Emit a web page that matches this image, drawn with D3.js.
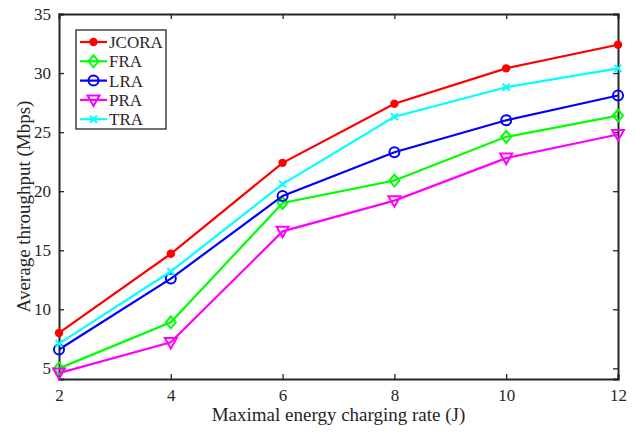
<!DOCTYPE html>
<html>
<head>
<meta charset="utf-8">
<script src="https://cdn.jsdelivr.net/npm/d3@7"></script>
<style>
  body { margin: 0; background: #fff; }
  text { font-family: "Liberation Serif", "Times New Roman", serif; fill: #262626; }
</style>
</head>
<body>
<svg id="chart"></svg>
<script>
const rates = [2, 4, 6, 8, 10, 12];
const jcora = [8.0, 14.7, 22.4, 27.4, 30.4, 32.4];
const fra = [5.0, 8.9, 19.0, 20.9, 24.6, 26.4];
const lra = [6.6, 12.6, 19.6, 23.3, 26.0, 28.1];
const pra = [4.6, 7.2, 16.6, 19.2, 22.8, 24.8];
const tra = [7.1, 13.2, 20.6, 26.3, 28.8, 30.4];
const xTicks = [2, 4, 6, 8, 10, 12];
const yTicks = [5, 10, 15, 20, 25, 30, 35];

const series = [
  { name: "JCORA", values: jcora, color: "#ff0000", marker: "dot" },
  { name: "FRA", values: fra, color: "#00ff00", marker: "diamond" },
  { name: "LRA", values: lra, color: "#0000ff", marker: "circle" },
  { name: "PRA", values: pra, color: "#ff00ff", marker: "triangle" },
  { name: "TRA", values: tra, color: "#00ffff", marker: "cross" }
];

const width = 636, height = 432;
const margin = { top: 14, right: 18, bottom: 53, left: 59 };

const svg = d3.select("#chart").attr("width", width).attr("height", height);

const x = d3.scaleLinear().domain([2, 12]).range([margin.left, width - margin.right]);
const y = d3.scaleLinear().domain([4.1, 35]).range([height - margin.bottom, margin.top]);

const axisColor = "#262626";

// ticks pointing inward on all four sides
svg.append("g")
  .attr("transform", `translate(0,${height - margin.bottom})`)
  .call(d3.axisBottom(x).tickValues(xTicks).tickSize(-5).tickPadding(10))
  .call(g => g.selectAll("text").style("font-size", "17px"));
svg.append("g")
  .attr("transform", `translate(0,${margin.top})`)
  .call(d3.axisTop(x).tickValues(xTicks).tickSize(-5).tickFormat(""));
svg.append("g")
  .attr("transform", `translate(${margin.left},0)`)
  .call(d3.axisLeft(y).tickValues(yTicks).tickSize(-5).tickPadding(8))
  .call(g => g.selectAll("text").style("font-size", "17px"));
svg.append("g")
  .attr("transform", `translate(${width - margin.right},0)`)
  .call(d3.axisRight(y).tickValues(yTicks).tickSize(-5).tickFormat(""));

svg.selectAll(".domain").attr("stroke", axisColor).attr("stroke-width", 2);
svg.selectAll(".tick line").attr("stroke", axisColor).attr("stroke-width", 1.3);
svg.selectAll(".tick text").attr("fill", axisColor).style("font-family", "Liberation Serif, serif");

const line = d3.line().x((d, i) => x(rates[i])).y(d => y(d));

function drawMarker(g, type, color, cx, cy) {
  if (type === "dot") {
    g.append("circle").attr("cx", cx).attr("cy", cy).attr("r", 4.2).attr("fill", color);
  } else if (type === "circle") {
    g.append("circle").attr("cx", cx).attr("cy", cy).attr("r", 5)
      .attr("fill", "none").attr("stroke", color).attr("stroke-width", 2);
  } else if (type === "diamond") {
    g.append("path").attr("d", `M${cx},${cy - 6}L${cx + 5},${cy}L${cx},${cy + 6}L${cx - 5},${cy}Z`)
      .attr("fill", "none").attr("stroke", color).attr("stroke-width", 2);
  } else if (type === "triangle") {
    g.append("path").attr("d", `M${cx - 6},${cy - 4.5}L${cx + 6},${cy - 4.5}L${cx},${cy + 6}Z`)
      .attr("fill", "none").attr("stroke", color).attr("stroke-width", 2);
  } else if (type === "cross") {
    g.append("path").attr("d", `M${cx - 3.5},${cy - 3.5}L${cx + 3.5},${cy + 3.5}M${cx - 3.5},${cy + 3.5}L${cx + 3.5},${cy - 3.5}`)
      .attr("fill", "none").attr("stroke", color).attr("stroke-width", 2);
  }
}

series.forEach(s => {
  svg.append("path")
    .datum(s.values)
    .attr("d", line)
    .attr("fill", "none")
    .attr("stroke", s.color)
    .attr("stroke-width", 2.2);
  const g = svg.append("g");
  s.values.forEach((v, i) => drawMarker(g, s.marker, s.color, x(rates[i]), y(v)));
});

// legend
const legend = svg.append("g").attr("transform", "translate(76,30)");
legend.append("rect")
  .attr("width", 90).attr("height", 99)
  .attr("fill", "#fff").attr("stroke", axisColor).attr("stroke-width", 1.3);
series.forEach((s, i) => {
  const ly = 12 + i * 19.3;
  legend.append("line").attr("x1", 4).attr("x2", 31).attr("y1", ly).attr("y2", ly)
    .attr("stroke", s.color).attr("stroke-width", 2.2);
  drawMarker(legend, s.marker, s.color, 17.5, ly);
  legend.append("text").attr("x", 33).attr("y", ly).attr("dy", "0.35em")
    .style("font-size", "17px").text(s.name);
});

svg.append("text")
  .attr("x", (margin.left + width - margin.right) / 2)
  .attr("y", 421)
  .attr("text-anchor", "middle")
  .style("font-size", "19px")
  .text("Maximal energy charging rate (J)");

svg.append("text")
  .attr("transform", `translate(23,${(margin.top + height - margin.bottom) / 2 + 10}) rotate(-90)`)
  .attr("text-anchor", "middle")
  .attr("dy", "0.35em")
  .style("font-size", "19px")
  .text("Average throughput (Mbps)");
</script>
</body>
</html>
